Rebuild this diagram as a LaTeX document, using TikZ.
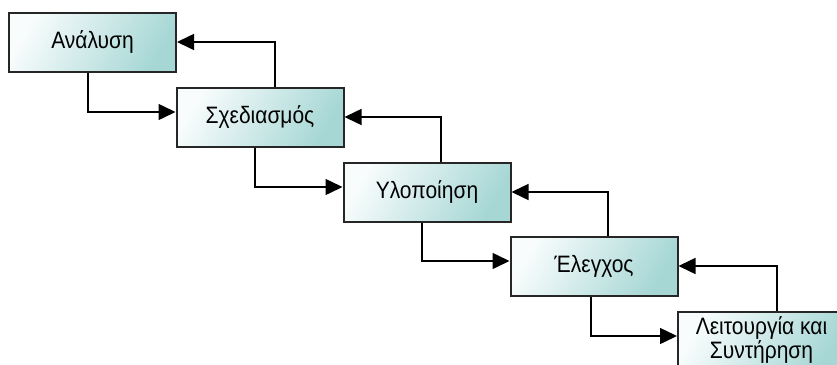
\documentclass[tikz,border=0pt]{standalone}
\usepackage{fontspec}
\setmainfont{Liberation Sans}
\usetikzlibrary{arrows.meta}
\definecolor{boxdark}{HTML}{A6D7D5}
\definecolor{boxlight}{HTML}{F8FCFC}
\newcommand\tallText[1]{\scalebox{1}[1.13]{#1}}
\begin{document}
\begin{tikzpicture}[x=1pt,y=-1pt,
  stage/.style={draw=black!85, line width=2pt, minimum width=167pt, minimum height=59pt,
    inner sep=0pt, top color=boxlight, bottom color=boxdark, shading angle=60,
    font=\fontsize{21}{24}\selectfont, align=center, text=black},
  flow/.style={draw=black, line width=1.5pt, -{Triangle[length=17pt,width=16pt]}}]
\useasboundingbox (0,0) rectangle (837,364);
\clip (0,0) rectangle (837,364);
\node[stage] (a) at (92.5,42) {\tallText{Ανάλυση}};
\node[stage] (s) at (260,117) {\tallText{Σχεδιασμός}};
\node[stage] (y) at (427,192) {\tallText{Υλοποίηση}};
\node[stage] (e) at (594,266) {\tallText{Έλεγχος}};
\node[stage] (l) at (761.5,341) {\tallText{\begin{tabular}{@{}c@{}}Λειτουργία και\\[-3pt]Συντήρηση\end{tabular}}};
% forward arrows
\draw[flow] ([xshift=-4.5pt]a.south) |- ([yshift=5pt]s.west);
\draw[flow] ([xshift=-5pt]s.south) |- ([yshift=5pt]y.west);
\draw[flow] ([xshift=-5pt]y.south) |- ([yshift=5pt]e.west);
\draw[flow] ([xshift=-3pt]e.south) |- ([yshift=5pt]l.west);
% back arrows
\draw[flow] ([xshift=15pt]s.north) |- (a.east);
\draw[flow] ([xshift=14pt]y.north) |- (s.east);
\draw[flow] ([xshift=14pt]e.north) |- (y.east);
\draw[flow] ([xshift=15.5pt]l.north) |- (e.east);
\end{tikzpicture}
\end{document}
